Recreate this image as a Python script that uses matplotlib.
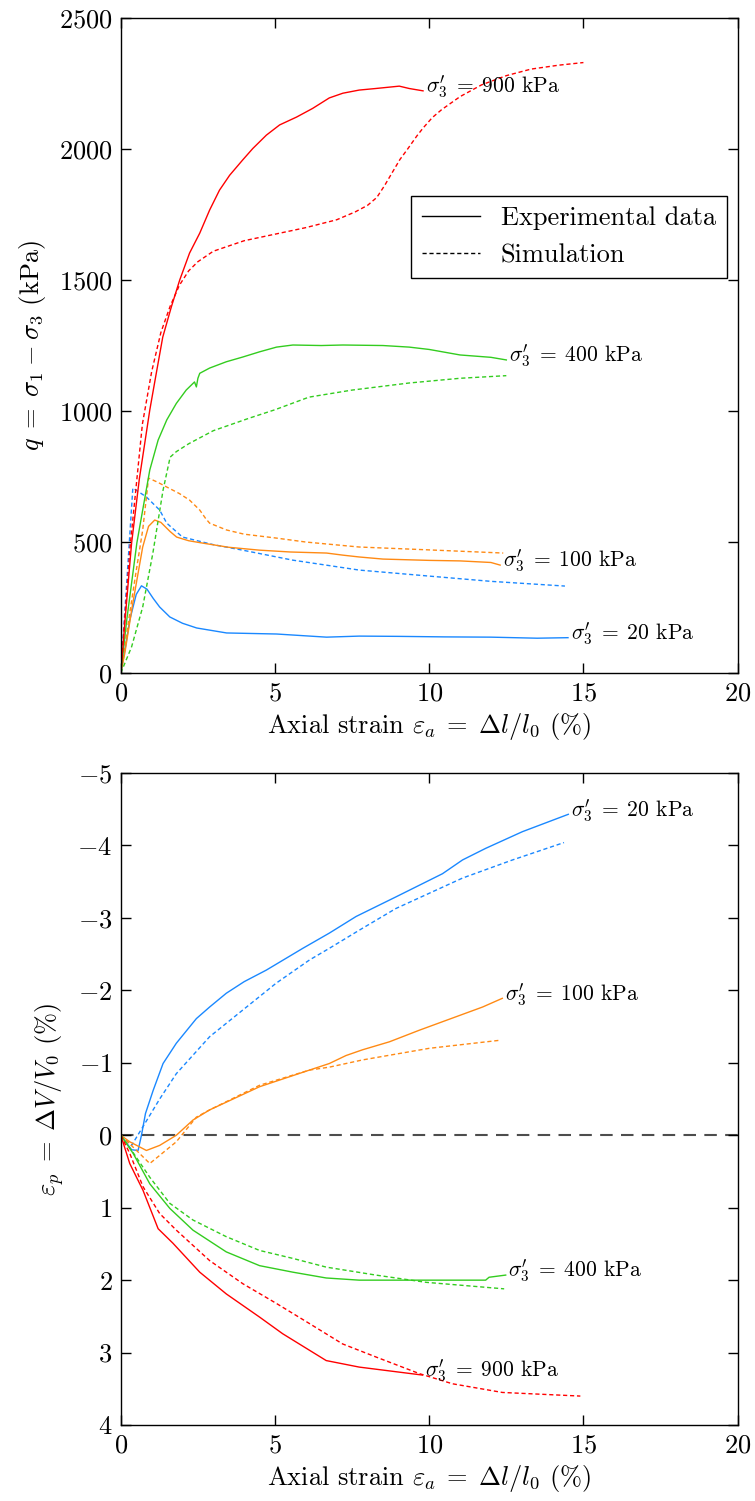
import matplotlib
matplotlib.use("Agg")
import matplotlib.pyplot as plt

plt.rcParams['font.family'] = 'serif'
plt.rcParams['font.serif'] = ['cmr10']
plt.rcParams['mathtext.fontset'] = 'cm'
plt.rcParams['axes.formatter.use_mathtext'] = True
plt.rcParams['font.size'] = 19

# couleurs des essais
c_20 = '#1a88ff'
c_100 = '#ff8a14'
c_400 = '#33cc1f'
c_900 = '#ff0000'

# ---- deviateur q (kPa) ----
eps_q_20 = [0, 0.15, 0.29, 0.5, 0.67, 0.85, 1.05, 1.26, 1.59, 2.0, 2.46, 3.43, 5.05, 6.67, 7.73, 9.0, 10.5, 12.0, 13.5, 14.5]
q_20 = [0, 100, 202, 300, 333, 320, 285, 252, 214, 190, 172, 153, 149, 137, 141, 140, 138, 137, 133, 135]
eps_q_20_sim = [0, 0.2, 0.39, 0.6, 0.83, 1.26, 1.49, 2.0, 3.0, 3.95, 5.57, 7.73, 10.0, 12.0, 14.4]
q_20_sim = [0, 360, 706, 690, 672, 622, 572, 519, 490, 469, 431, 393, 370, 350, 332]

eps_q_100 = [0, 0.13, 0.39, 0.71, 0.9, 1.1, 1.3, 1.6, 1.81, 2.2, 2.65, 3.5, 4.5, 5.5, 6.67, 7.2, 7.73, 8.5, 10.0, 11.0, 12.0, 12.3]
q_100 = [0, 76, 267, 481, 560, 584, 575, 540, 519, 505, 496, 480, 469, 462, 458, 450, 443, 435, 430, 428, 422, 412]
eps_q_100_sim = [0, 0.29, 0.5, 0.71, 0.9, 1.2, 1.49, 1.9, 2.23, 2.56, 2.75, 2.88, 3.43, 4.0, 5.05, 6.0, 7.73, 10.0, 12.4]
q_100_sim = [0, 229, 390, 546, 744, 728, 710, 685, 660, 622, 590, 572, 546, 530, 515, 500, 481, 470, 458]

eps_q_400 = [0, 0.19, 0.52, 0.94, 1.21, 1.49, 1.8, 2.12, 2.39, 2.45, 2.5, 2.56, 2.88, 3.42, 3.95, 4.5, 5.05, 5.58, 6.5, 7.2, 8.5, 9.35, 10.0, 11.0, 12.0, 12.5]
q_400 = [0, 200, 496, 775, 889, 966, 1029, 1080, 1111, 1092, 1125, 1144, 1164, 1188, 1206, 1226, 1244, 1252, 1250, 1252, 1250, 1244, 1235, 1214, 1205, 1195]
eps_q_400_sim = [0, 0.35, 0.71, 1.04, 1.37, 1.6, 1.8, 2.2, 3.0, 4.17, 5.0, 6.1, 7.5, 9.35, 11.0, 12.5]
q_400_sim = [0, 100, 252, 458, 698, 824, 845, 875, 925, 973, 1005, 1053, 1080, 1107, 1125, 1135]

eps_q_900 = [0, 0.15, 0.35, 0.6, 0.94, 1.15, 1.36, 1.64, 1.91, 2.23, 2.56, 2.88, 3.2, 3.53, 3.95, 4.28, 4.72, 5.15, 5.7, 6.22, 6.76, 7.2, 7.73, 8.27, 9.03, 9.35, 9.8]
q_900 = [0, 220, 496, 740, 1004, 1144, 1282, 1398, 1500, 1603, 1679, 1767, 1843, 1900, 1958, 2002, 2053, 2092, 2122, 2155, 2195, 2213, 2225, 2231, 2240, 2231, 2222]
eps_q_900_sim = [0, 0.3, 0.7, 1.0, 1.3, 1.6, 1.9, 2.2, 2.5, 3.0, 4.0, 5.0, 6.0, 7.0, 7.6, 8.0, 8.3, 8.55, 8.8, 9.05, 9.3, 9.6, 9.8, 10.1, 10.4, 11.0, 11.7, 12.5, 13.3, 14.2, 15.0]
q_900_sim = [0, 480, 950, 1150, 1300, 1400, 1480, 1535, 1570, 1610, 1650, 1675, 1700, 1730, 1760, 1785, 1815, 1860, 1910, 1960, 2000, 2050, 2080, 2120, 2150, 2200, 2245, 2280, 2305, 2320, 2330]

# ---- deformation volumique (%) ----
eps_v_20 = [0, 0.35, 0.56, 0.67, 0.8, 1.05, 1.37, 1.8, 2.45, 2.88, 3.42, 4.0, 4.72, 5.9, 6.76, 7.63, 8.92, 10.43, 11.08, 11.83, 13.02, 14.51]
v_20 = [0, 0.2, 0.21, 0, -0.3, -0.62, -0.99, -1.27, -1.61, -1.77, -1.96, -2.12, -2.28, -2.58, -2.79, -3.02, -3.29, -3.61, -3.8, -3.96, -4.19, -4.43]
eps_v_20_sim = [0, 0.35, 0.72, 1.26, 1.8, 2.88, 3.96, 5.04, 6.12, 6.76, 7.73, 8.92, 11.08, 12.7, 14.37]
v_20_sim = [0, 0.14, -0.12, -0.5, -0.85, -1.36, -1.73, -2.1, -2.42, -2.58, -2.83, -3.13, -3.55, -3.8, -4.04]

eps_v_100 = [0, 0.29, 0.83, 1.26, 1.8, 2.34, 2.88, 4.5, 6.12, 6.76, 7.3, 7.84, 8.71, 9.68, 11.73, 12.37]
v_100 = [0, 0.09, 0.21, 0.14, 0, -0.21, -0.35, -0.67, -0.9, -0.99, -1.1, -1.18, -1.29, -1.45, -1.77, -1.89]
eps_v_100_sim = [0, 0.51, 0.94, 1.8, 2.45, 2.88, 4.5, 6.12, 6.76, 7.84, 10.0, 12.27]
v_100_sim = [0, 0.21, 0.39, 0.09, -0.25, -0.35, -0.69, -0.9, -0.94, -1.04, -1.2, -1.31]

eps_v_400 = [0, 0.4, 0.94, 1.59, 2.34, 3.42, 4.5, 5.58, 6.66, 7.73, 11.83, 11.94, 12.48]
v_400 = [0, 0.25, 0.67, 1.01, 1.31, 1.61, 1.8, 1.89, 1.97, 2.0, 2.0, 1.96, 1.93]
eps_v_400_sim = [0, 0.4, 0.94, 1.59, 2.34, 3.42, 4.5, 5.58, 6.66, 8.27, 9.9, 12.43]
v_400_sim = [0, 0.24, 0.58, 0.94, 1.17, 1.4, 1.59, 1.7, 1.82, 1.93, 2.03, 2.12]

eps_v_900 = [0, 0.29, 0.51, 0.72, 1.21, 1.69, 2.56, 3.42, 4.5, 5.25, 6.66, 7.73, 9.78]
v_900 = [0, 0.39, 0.58, 0.76, 1.29, 1.49, 1.89, 2.19, 2.51, 2.74, 3.11, 3.2, 3.31]
eps_v_900_sim = [0, 0.29, 0.72, 1.26, 1.8, 2.88, 3.96, 5.04, 6.12, 7.19, 8.27, 9.68, 10.75, 12.37, 14.9]
v_900_sim = [0, 0.25, 0.71, 1.08, 1.31, 1.73, 2.05, 2.32, 2.6, 2.88, 3.06, 3.29, 3.43, 3.55, 3.6]

xticks = [0, 5, 10, 15, 20]
qticks = [0, 500, 1000, 1500, 2000, 2500]
vticks = [-5, -4, -3, -2, -1, 0, 1, 2, 3, 4]

lw = 1.0
dash = (0, (3, 2))
xlab = r"Axial strain $\varepsilon_a \;{=}\; \Delta l/l_0$ (%)"

fig = plt.figure(figsize=(7.55, 15.01), dpi=100)
ax1 = fig.add_axes([0.160, 0.5516, 0.817, 0.4364])
ax2 = fig.add_axes([0.160, 0.0506, 0.817, 0.4344])


def etiquette(ax, x, y, p):
    # texte place au bout de la courbe experimentale
    texte = r"$\sigma_3' \;{=}\; " + p + "$ kPa"
    ax.annotate(texte, xy=(x, y), xytext=(2, 3), textcoords='offset points',
                ha='left', va='center', fontsize=15.5)


# --- graphe du haut ---
courbes_q = [
    (eps_q_20, q_20, eps_q_20_sim, q_20_sim, c_20, '20'),
    (eps_q_100, q_100, eps_q_100_sim, q_100_sim, c_100, '100'),
    (eps_q_400, q_400, eps_q_400_sim, q_400_sim, c_400, '400'),
    (eps_q_900, q_900, eps_q_900_sim, q_900_sim, c_900, '900'),
]
for ex, ey, sx, sy, c, p in courbes_q:
    ax1.plot(ex, ey, color=c, lw=lw)
    ax1.plot(sx, sy, color=c, lw=lw, linestyle=dash)
    etiquette(ax1, ex[-1], ey[-1], p)

l1, = ax1.plot([], [], color='k', lw=lw, label='Experimental data')
l2, = ax1.plot([], [], color='k', lw=lw, linestyle=dash, label='Simulation')
leg = ax1.legend(handles=[l1, l2], loc='upper right', bbox_to_anchor=(0.982, 0.728),
                 borderaxespad=0, fancybox=False, framealpha=1, edgecolor='k',
                 handlelength=2.2, fontsize=19)
leg.get_frame().set_linewidth(1.0)

ax1.set_xlim(0, 20)
ax1.set_ylim(0, 2500)
ax1.set_xticks(xticks)
ax1.set_yticks(qticks)
ax1.set_xlabel(xlab)
ax1.set_ylabel(r"$q \;{=}\; \sigma_1 \:{-}\: \sigma_3$ (kPa)", labelpad=8)

# --- graphe du bas ---
courbes_v = [
    (eps_v_20, v_20, eps_v_20_sim, v_20_sim, c_20, '20'),
    (eps_v_100, v_100, eps_v_100_sim, v_100_sim, c_100, '100'),
    (eps_v_400, v_400, eps_v_400_sim, v_400_sim, c_400, '400'),
    (eps_v_900, v_900, eps_v_900_sim, v_900_sim, c_900, '900'),
]
ax2.axhline(0, color='0.3', lw=1.5, linestyle=(0, (6, 4)), zorder=1)
for ex, ey, sx, sy, c, p in courbes_v:
    ax2.plot(ex, ey, color=c, lw=lw)
    ax2.plot(sx, sy, color=c, lw=lw, linestyle=dash)
    etiquette(ax2, ex[-1], ey[-1], p)

ax2.set_xlim(0, 20)
ax2.set_ylim(4, -5)
ax2.set_xticks(xticks)
ax2.set_yticks(vticks)
ax2.set_xlabel(xlab)
ax2.set_ylabel(r"$\varepsilon_p \;{=}\; \Delta V/V_0$ (%)", labelpad=8)

for ax in (ax1, ax2):
    ax.tick_params(direction='in', length=7, width=1, top=True, right=True,
                   labelsize=19, pad=6)
    for s in ax.spines.values():
        s.set_linewidth(1.0)

fig.savefig('out.png', dpi=100)
